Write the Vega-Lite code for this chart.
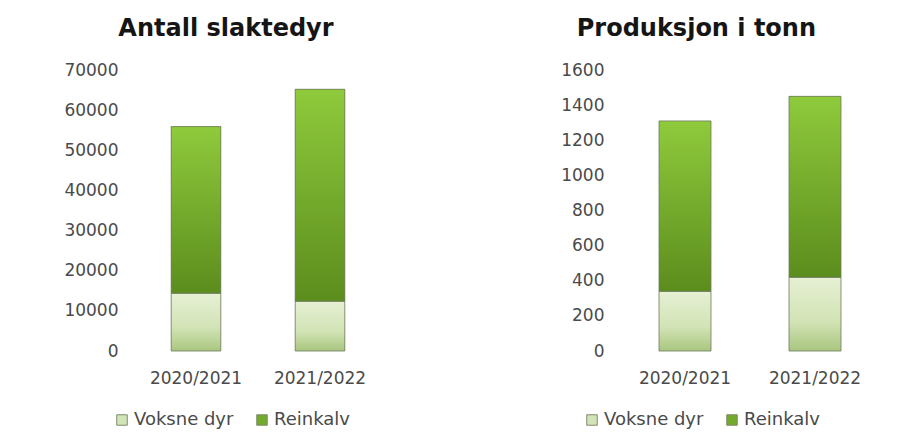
{
  "$schema": "https://vega.github.io/schema/vega-lite/v6.json",
  "background": "white",
  "padding": {"left": 63, "top": 17, "right": 5, "bottom": 5},
  "config": {
    "view": {"stroke": null},
    "font": "DejaVu Sans",
    "axis": {"grid": false, "domain": false, "ticks": false, "title": null, "labelColor": "#4a4a4a"},
    "axisX": {"labelAngle": 0, "labelFontSize": 17, "labelPadding": 19},
    "axisY": {"labelFontSize": 17, "labelPadding": 16},
    "title": {"fontSize": 24, "fontWeight": "bold", "color": "#151515", "anchor": "middle", "frame": "bounds", "offset": 20},
    "legend": {"orient": "bottom", "direction": "horizontal", "title": null, "labelFontSize": 18, "labelColor": "#4a4a4a", "symbolType": "square", "symbolSize": 110, "columnPadding": 19, "symbolStrokeColor": "#7d8a6c", "symbolStrokeWidth": 1, "labelOffset": 3}
  },
  "datasets": {
    "slakt": [
      {"sesong": "2020/2021", "serie": "Voksne dyr", "verdi": 14400},
      {"sesong": "2020/2021", "serie": "Reinkalv", "verdi": 41500},
      {"sesong": "2021/2022", "serie": "Voksne dyr", "verdi": 12400},
      {"sesong": "2021/2022", "serie": "Reinkalv", "verdi": 52800}
    ],
    "prod": [
      {"sesong": "2020/2021", "serie": "Voksne dyr", "verdi": 340},
      {"sesong": "2020/2021", "serie": "Reinkalv", "verdi": 970},
      {"sesong": "2021/2022", "serie": "Voksne dyr", "verdi": 420},
      {"sesong": "2021/2022", "serie": "Reinkalv", "verdi": 1030}
    ]
  },
  "spacing": 178,
  "resolve": {"scale": {"color": "independent", "y": "independent"}, "legend": {"color": "independent"}},
  "hconcat": [
    {
      "title": {"text": "Antall slaktedyr", "dx": 3},
      "width": 248,
      "height": 281,
      "data": {"name": "slakt"},
      "encoding": {
        "x": {"field": "sesong", "type": "nominal", "scale": {"paddingInner": 0.6, "paddingOuter": 0.3}},
        "y": {"field": "verdi", "type": "quantitative", "stack": "zero", "scale": {"domain": [0, 70000]}, "axis": {"values": [0, 10000, 20000, 30000, 40000, 50000, 60000, 70000], "format": "d"}},
        "order": {"field": "serie", "sort": "descending"}
      },
      "layer": [
        {
          "mark": {"type": "bar"},
          "encoding": {
            "color": {"field": "serie", "type": "nominal", "scale": {"domain": ["Voksne dyr", "Reinkalv"], "range": ["#d3e4b8", "#74aa2c"]}, "legend": {"padding": -21, "offset": 46}}
          }
        },
        {
          "mark": {"type": "bar", "stroke": "#6e7a5e", "strokeWidth": 1, "strokeOpacity": 0.8},
          "encoding": {
            "detail": {"field": "serie"},
            "fill": {
              "condition": {"test": "datum.serie === 'Voksne dyr'", "value": {"gradient": "linear", "x1": 0, "y1": 0, "x2": 0, "y2": 1, "stops": [{"offset": 0, "color": "#e6f0d4"}, {"offset": 0.6, "color": "#d2e3b5"}, {"offset": 1, "color": "#a9c67f"}]}},
              "value": {"gradient": "linear", "x1": 0, "y1": 0, "x2": 0, "y2": 1, "stops": [{"offset": 0, "color": "#8fca3c"}, {"offset": 1, "color": "#5b8d1d"}]}
            }
          }
        }
      ]
    },
    {
      "title": {"text": "Produksjon i tonn", "dx": -24},
      "width": 260,
      "height": 281,
      "data": {"name": "prod"},
      "encoding": {
        "x": {"field": "sesong", "type": "nominal", "scale": {"paddingInner": 0.6, "paddingOuter": 0.3}},
        "y": {"field": "verdi", "type": "quantitative", "stack": "zero", "scale": {"domain": [0, 1600]}, "axis": {"values": [0, 200, 400, 600, 800, 1000, 1200, 1400, 1600], "format": "d"}},
        "order": {"field": "serie", "sort": "descending"}
      },
      "layer": [
        {
          "mark": {"type": "bar"},
          "encoding": {
            "color": {"field": "serie", "type": "nominal", "scale": {"domain": ["Voksne dyr", "Reinkalv"], "range": ["#d3e4b8", "#74aa2c"]}, "legend": {"padding": -37, "offset": 62}}
          }
        },
        {
          "mark": {"type": "bar", "stroke": "#6e7a5e", "strokeWidth": 1, "strokeOpacity": 0.8},
          "encoding": {
            "detail": {"field": "serie"},
            "fill": {
              "condition": {"test": "datum.serie === 'Voksne dyr'", "value": {"gradient": "linear", "x1": 0, "y1": 0, "x2": 0, "y2": 1, "stops": [{"offset": 0, "color": "#e6f0d4"}, {"offset": 0.6, "color": "#d2e3b5"}, {"offset": 1, "color": "#a9c67f"}]}},
              "value": {"gradient": "linear", "x1": 0, "y1": 0, "x2": 0, "y2": 1, "stops": [{"offset": 0, "color": "#8fca3c"}, {"offset": 1, "color": "#5b8d1d"}]}
            }
          }
        }
      ]
    }
  ]
}
